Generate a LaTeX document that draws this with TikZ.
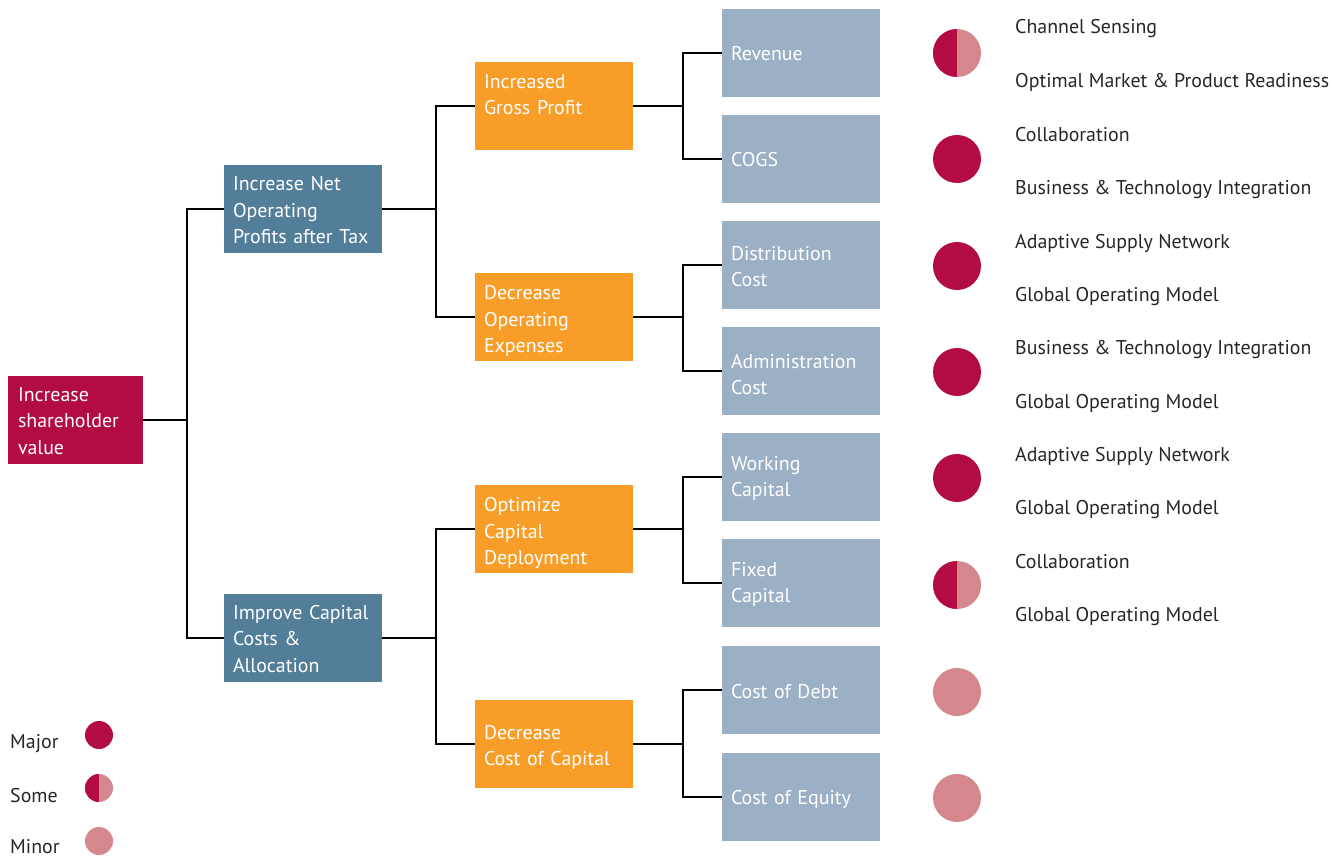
\documentclass[tikz,border=0pt]{standalone}
\usepackage{fontspec}
\setmainfont{PT Sans}
\definecolor{crimson}{HTML}{B30C44}
\definecolor{rosy}{HTML}{D4888E}
\definecolor{slate}{HTML}{527E99}
\definecolor{amber}{HTML}{F89E28}
\definecolor{mist}{HTML}{9BB0C4}
% a filled box with its caption set on top of it, left aligned
% #1 style, #2 name, #3 centre, #4 caption centre, #5 caption
\newcommand\drvbox[5]{%
  \node[#1] (#2) at (#3) {};
  \node[boxtext] (#2-txt) at (#4) {#5};}
\begin{document}
\begin{tikzpicture}[x=1pt,y=-1pt,
  every node/.style={font=\fontsize{19.9}{26.5}\selectfont},
  box/.style={rectangle, minimum width=158pt, minimum height=88pt, inner sep=0pt},
  boxtext/.style={inner sep=0pt, text width=140pt, align=left, text=white, anchor=center},
  rootbox/.style={box, fill=crimson, minimum width=135pt},
  tealbox/.style={box, fill=slate},
  orangebox/.style={box, fill=amber},
  greybox/.style={box, fill=mist},
  link/.style={line width=2.4pt, black},
  major/.style={circle, fill=crimson, minimum size=#1, inner sep=0pt},
  minor/.style={circle, fill=rosy, minimum size=#1, inner sep=0pt},
  some/.style={circle, fill=rosy, minimum size=#1, inner sep=0pt,
    path picture={\fill[crimson] (path picture bounding box.north west) rectangle (path picture bounding box.south);}},
  lever/.style={anchor=base west, inner sep=0pt, text=black!85},
  legend/.style={anchor=base west, inner sep=0pt, text=black!85}]
\useasboundingbox (0,0) rectangle (1332,856);

% tree of value drivers
\node[rootbox] (root) at (75.5,420) {};
\node[boxtext, text width=117pt] (root-txt) at (76.5,421) {Increase\\shareholder\\value};

\drvbox{tealbox}{nopat}{303,209}{303,210.5}{Increase Net\\Operating\\Profits after Tax}
\drvbox{tealbox}{capital}{303,638}{303,639}{Improve Capital\\Costs \&\\Allocation}

\drvbox{orangebox}{gross}{554,106}{554,94.5}{Increased\\Gross Profit}
\drvbox{orangebox}{opex}{554,317}{554,321}{Decrease\\Operating\\Expenses}
\drvbox{orangebox}{deploy}{554,529}{554,533}{Optimize\\Capital\\Deployment}
\drvbox{orangebox}{coc}{554,744}{554,747.5}{Decrease\\Cost of Capital}

\drvbox{greybox}{rev}{801,53}{801,54}{Revenue}
\drvbox{greybox}{cogs}{801,159}{801,160}{COGS}
\drvbox{greybox}{dist}{801,265}{801,266.5}{Distribution\\Cost}
\drvbox{greybox}{admin}{801,371}{801,374.5}{Administration\\Cost}
\drvbox{greybox}{wc}{801,477}{801,478.5}{Working\\Capital}
\drvbox{greybox}{fc}{801,583}{801,584.5}{Fixed\\Capital}
\drvbox{greybox}{debt}{801,690}{801,692}{Cost of Debt}
\drvbox{greybox}{equity}{801,797}{801,799}{Cost of Equity}

% branching connectors
\coordinate (j0) at (187,420);
\coordinate (j1) at (436,209);
\coordinate (j2) at (436,638);
\coordinate (j3) at (683,106);
\coordinate (j4) at (683,317);
\coordinate (j5) at (683,529);
\coordinate (j6) at (683,744);

\draw[link] (root.east) -- (j0);
\draw[link] (nopat.west) -| (j0) |- (capital.west);
\draw[link] (nopat.east) -- (j1);
\draw[link] (gross.west) -| (j1) |- (opex.west);
\draw[link] (capital.east) -- (j2);
\draw[link] (deploy.west) -| (j2) |- (coc.west);
\draw[link] (gross.east) -- (j3);
\draw[link] (rev.west) -| (j3) |- (cogs.west);
\draw[link] (opex.east) -- (j4);
\draw[link] (dist.west) -| (j4) |- (admin.west);
\draw[link] (deploy.east) -- (j5);
\draw[link] (wc.west) -| (j5) |- (fc.west);
\draw[link] (coc.east) -- (j6);
\draw[link] (debt.west) -| (j6) |- (equity.west);

% impact markers
\node[some=48pt] (m1) at (957,53) {};
\node[major=48pt] (m2) at (957,159) {};
\node[major=48pt] (m3) at (957,266) {};
\node[major=48pt] (m4) at (957,372) {};
\node[major=48pt] (m5) at (957,478) {};
\node[some=48pt] (m6) at (957,585) {};
\node[minor=48pt] (m7) at (957,692) {};
\node[minor=48pt] (m8) at (957,798) {};

% capability levers
\node[lever] (c1a) at (1015,34) {Channel Sensing};
\node[lever] (c1b) at (1015,88) {Optimal Market \& Product Readiness};
\node[lever] (c2a) at (1015,141) {Collaboration};
\node[lever] (c2b) at (1015,194) {Business \& Technology Integration};
\node[lever] (c3a) at (1015,248) {Adaptive Supply Network};
\node[lever] (c3b) at (1015,301) {Global Operating Model};
\node[lever] (c4a) at (1015,354) {Business \& Technology Integration};
\node[lever] (c4b) at (1015,408) {Global Operating Model};
\node[lever] (c5a) at (1015,461) {Adaptive Supply Network};
\node[lever] (c5b) at (1015,514) {Global Operating Model};
\node[lever] (c6a) at (1015,568) {Collaboration};
\node[lever] (c6b) at (1015,621) {Global Operating Model};

% legend
\node[legend] (lmajor) at (10,748) {Major};
\node[major=28pt] (kmajor) at (99,735) {};
\node[legend] (lsome) at (10,802) {Some};
\node[some=28pt] (ksome) at (99,788) {};
\node[legend] (lminor) at (10,853) {Minor};
\node[minor=28pt] (kminor) at (99,841) {};
\end{tikzpicture}
\end{document}
